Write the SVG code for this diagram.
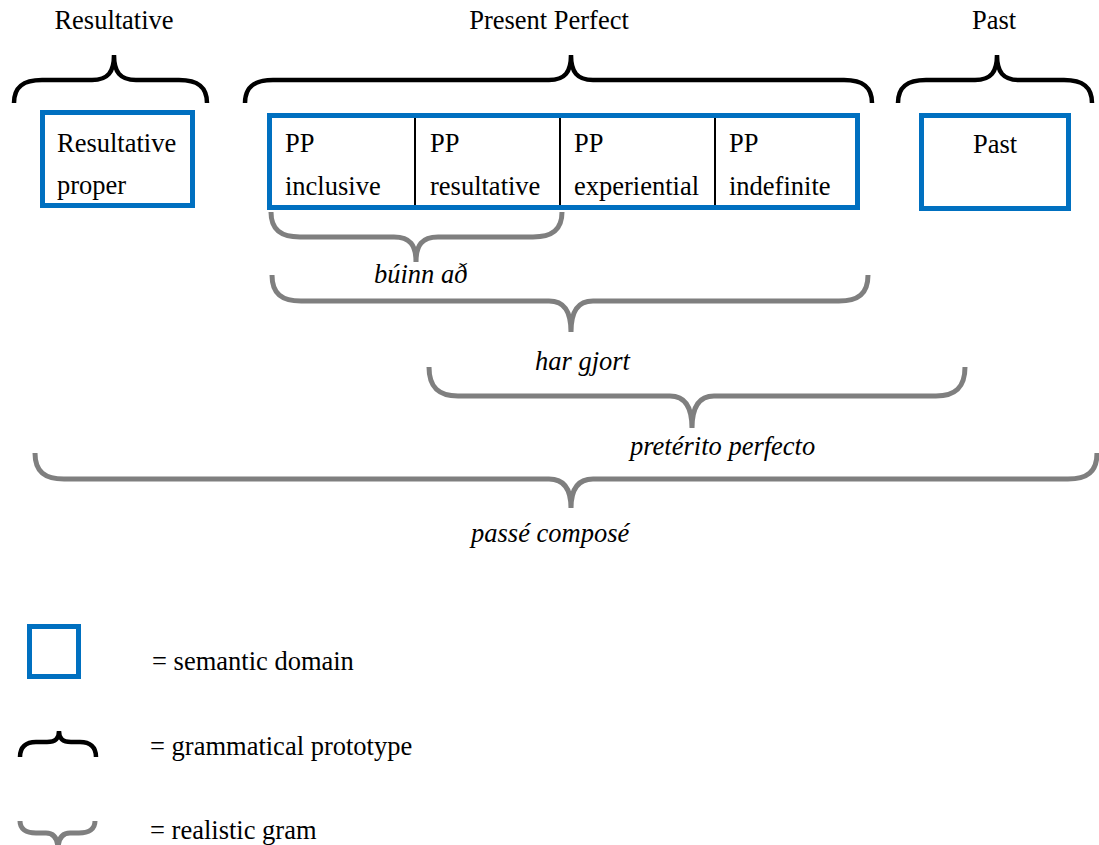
<svg xmlns="http://www.w3.org/2000/svg" width="1099" height="845" viewBox="0 0 1099 845">
<style>
text{font-family:"Liberation Serif","Times New Roman",serif;font-size:26.5px;fill:#000}
.it{font-style:italic}
.mid{text-anchor:middle}
.dom{fill:none;stroke:#0070C0;stroke-width:5}
.proto{fill:none;stroke:#000;stroke-width:4.5;stroke-linecap:butt}
.gram{fill:none;stroke:#7f7f7f;stroke-width:5}
.div{stroke:#000;stroke-width:2}
</style>
<rect width="1099" height="845" fill="#fff"/>
<g id="connectors">
<path class="proto" d="M14,103 C14,86 24,80 42,80 L92,80 C108,80 114,72 114,55 C114,72 120,80 136,80 L179,80 C197,80 207,86 207,103"/>
<path class="proto" d="M245,103 C245,86 255,80 273,80 L549,80 C565,80 571,72 571,55 C571,72 577,80 593,80 L844,80 C862,80 872,86 872,103"/>
<path class="proto" d="M898,103 C898,86 908,80 926,80 L975,80 C991,80 997,72 997,55 C997,72 1003,80 1019,80 L1064,80 C1082,80 1092,86 1092,103"/>
<path class="gram" d="M271,212 C271,230 281,237 300,237 L394,237 C410,237 416,245 416,262 C416,245 422,237 438,237 L533,237 C552,237 562,230 562,212"/>
<path class="gram" d="M272,275 C272,294 282,301 301,301 L549,301 C565,301 571,312 571,332 C571,312 577,301 593,301 L839,301 C858,301 868,294 868,275"/>
<path class="gram" d="M429,367 C429,388 439,396 458,396 L670,396 C686,396 692,408 692,428 C692,408 698,396 714,396 L936,396 C955,396 965,388 965,367"/>
<path class="gram" d="M35,453 C35,472 45,479 64,479 L549,479 C565,479 571,490 571,508 C571,490 577,479 593,479 L1068,479 C1087,479 1097,472 1097,453"/>
</g>
<g id="title-resultative"><text class="mid" x="114" y="29">Resultative</text></g>
<g id="title-present-perfect"><text class="mid" x="549" y="29">Present Perfect</text></g>
<g id="title-past"><text class="mid" x="994" y="29">Past</text></g>
<g id="node-resultative-proper">
<rect class="dom" x="42.5" y="112.5" width="150" height="93"/>
<text x="57" y="152">Resultative</text>
<text x="57" y="194">proper</text>
</g>
<g id="node-present-perfect">
<rect class="dom" x="269.5" y="115.5" width="588" height="92"/>
<line class="div" x1="415" y1="118" x2="415" y2="205"/>
<line class="div" x1="560" y1="118" x2="560" y2="205"/>
<line class="div" x1="715" y1="118" x2="715" y2="205"/>
<text x="285" y="152">PP</text><text x="285" y="195">inclusive</text>
<text x="430" y="152">PP</text><text x="430" y="195">resultative</text>
<text x="574" y="152">PP</text><text x="574" y="195">experiential</text>
<text x="729" y="152">PP</text><text x="729" y="195">indefinite</text>
</g>
<g id="node-past">
<rect class="dom" x="921.5" y="115.5" width="147" height="93"/>
<text class="mid" x="995" y="153">Past</text>
</g>
<g id="label-buinn-ad"><text class="it" x="374" y="283">búinn að</text></g>
<g id="label-har-gjort"><text class="it" x="535" y="370">har gjort</text></g>
<g id="label-preterito"><text class="it" x="630" y="455">pretérito perfecto</text></g>
<g id="label-passe"><text class="it" x="471" y="542">passé composé</text></g>
<g id="legend">
<rect class="dom" x="29.5" y="626.5" width="49" height="50"/>
<text x="152" y="670">= semantic domain</text>
<path class="proto" d="M20,757 C20,747 26,742 36,742 L47,742 C56,742 59,738 59,731 C59,738 62,742 71,742 L80,742 C90,742 96,747 96,757"/>
<text x="150" y="755">= grammatical prototype</text>
<path class="gram" d="M20,821 C20,829 26,833 36,833 L46,833 C55,833 58,840 58,850 C58,840 61,833 70,833 L79,833 C89,833 95,829 95,821"/>
<text x="150" y="839">= realistic gram</text>
</g>
</svg>
